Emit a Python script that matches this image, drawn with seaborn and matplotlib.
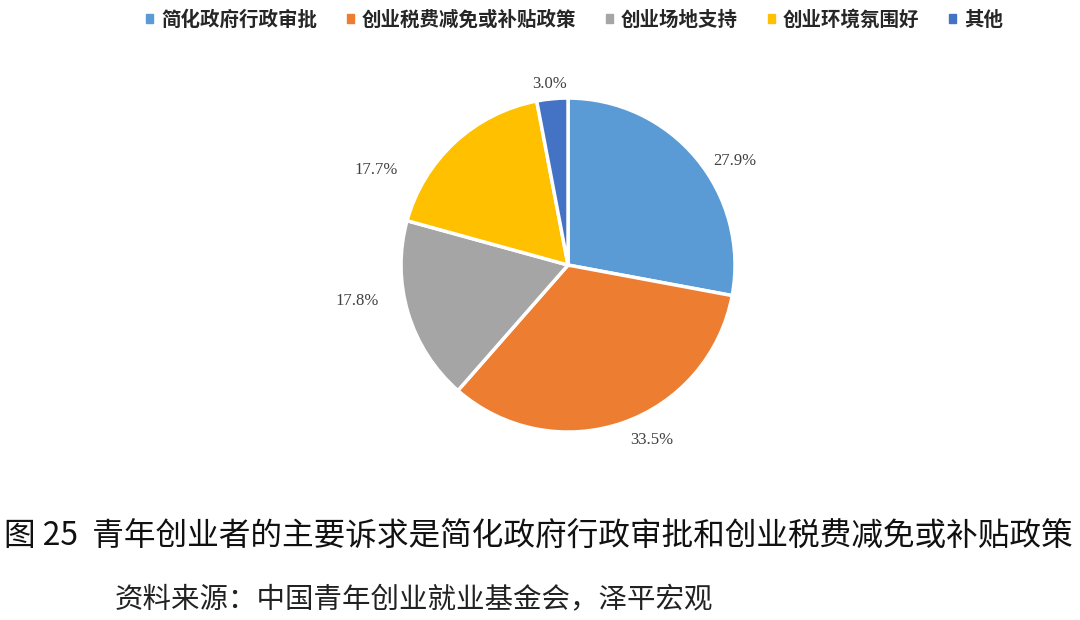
import matplotlib
matplotlib.use("Agg")
import matplotlib.pyplot as plt
import seaborn as sns
import numpy as np

categories = ["简化政府行政审批", "创业税费减免或补贴政策", "创业场地支持", "创业环境氛围好", "其他"]
values = [27.9, 33.5, 17.8, 17.7, 3.0]
colors = ["#5B9BD5", "#ED7D31", "#A5A5A5", "#FFC000", "#4472C4"]
title_text = "图 25  青年创业者的主要诉求是简化政府行政审批和创业税费减免或补贴政策"
source_text = "资料来源：中国青年创业就业基金会，泽平宏观"

sns.set_theme(style="white")
plt.rcParams['font.family'] = ['Noto Sans CJK SC', 'DejaVu Sans']

fig = plt.figure(figsize=(10.8, 6.2), dpi=100)
ax = fig.add_axes([0.294, 0.1685, 0.4639, 0.808])

labels = [f"{v:.1f}%" for v in values]
wedges, texts = ax.pie(values, colors=colors, startangle=90, counterclock=False,
                       labels=labels, labeldistance=1.13,
                       wedgeprops=dict(edgecolor="white", linewidth=2.5),
                       textprops=dict(fontfamily="Liberation Serif", fontsize=12, color="#404040"))
# small nudges so labels sit like the original's outside-end labels
label_nudges = [(0.0, -0.10), (0.0, 0.02), (-0.05, 0.11), (-0.25, -0.26), (0.10, -0.04)]
for t, (dx, dy) in zip(texts, label_nudges):
    x, y = t.get_position()
    t.set_position((x + dx, y + dy))

ax.set_xlim(-1.5, 1.5)
ax.set_ylim(-1.5, 1.5)
ax.set_aspect("equal")
ax.axis("off")

handles = [plt.Rectangle((0, 0), 1, 1, color=c) for c in colors]
fig.legend(handles, categories, loc="upper center", bbox_to_anchor=(0.532, 1.012), ncol=5,
           frameon=False, handlelength=0.35, handleheight=0.35, handletextpad=0.4,
           columnspacing=1.55, prop=dict(family=['Noto Sans CJK SC'], weight='bold', size=14))

fig.text(0.004, 0.134, title_text, fontsize=22.8, ha="left", va="center", color="#111111")
fig.text(0.106, 0.032, source_text, fontsize=20.5, ha="left", va="center", color="#222222")

fig.savefig("out.png", dpi=100)
